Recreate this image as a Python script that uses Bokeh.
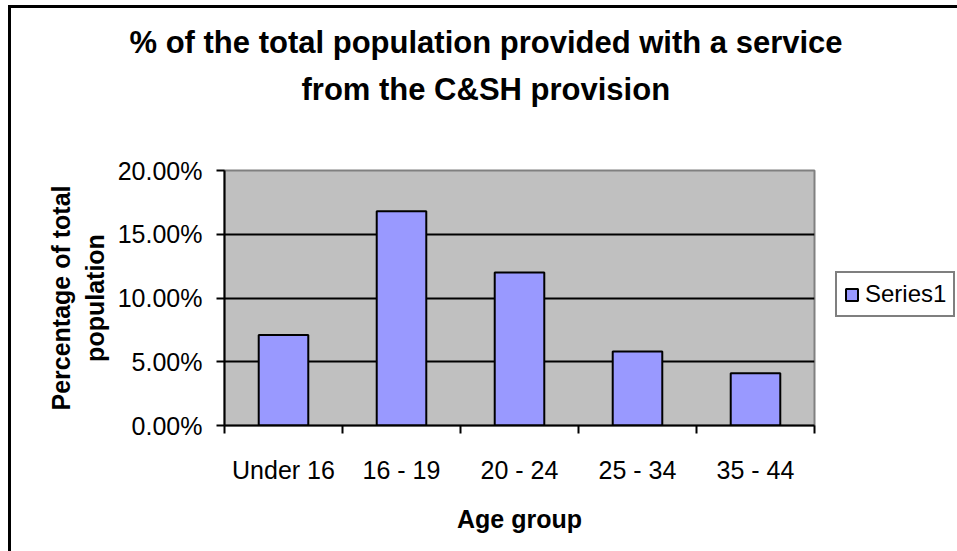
from bokeh.plotting import figure
from bokeh.models import (FixedTicker, NumeralTickFormatter, Legend, LegendItem,
                          ColumnDataSource, Range1d, Title)
from bokeh.embed import file_html
from bokeh.resources import INLINE

# ---- data ----
categories = ["Under 16", "16 - 19", "20 - 24", "25 - 34", "35 - 44"]
values = [0.071, 0.168, 0.120, 0.058, 0.041]
y_ticks = [0.0, 0.05, 0.10, 0.15, 0.20]
series_name = "Series1"
title_lines = ["% of the total population provided with a service",
               "from the C&SH provision"]
x_title = "Age group"
y_title = "Percentage of total\npopulation"

FONT = "Liberation Sans"

xs = [i + 0.5 for i in range(len(categories))]
src = ColumnDataSource(dict(x=xs, top=values, cat=categories))

p = figure(frame_width=590, frame_height=255,
           x_range=Range1d(0, len(categories)), y_range=Range1d(y_ticks[0], y_ticks[-1]),
           output_backend="svg", toolbar_location=None,
           min_border_left=213, min_border_top=162, min_border_right=143, min_border_bottom=126)
p.styles = {"border-left": "3px solid black", "border-top": "3px solid black",
            "margin-left": "8px", "margin-top": "5px"}
p.background_fill_color = "#C0C0C0"
p.border_fill_color = "white"
p.outline_line_color = "#808080"
p.outline_line_width = 2

r = p.vbar(x="x", top="top", width=0.42, source=src,
           fill_color="#9999FF", line_color="black", line_width=2)

# x axis: labels at centres, ticks at boundaries
xa = p.xaxis[0]
xa.ticker = FixedTicker(ticks=xs, minor_ticks=list(range(len(categories) + 1)))
xa.major_label_overrides = {x: c for x, c in zip(xs, categories)}
xa.major_tick_out = 0
xa.major_tick_in = 0
xa.minor_tick_out = 8
xa.minor_tick_in = 0
xa.minor_tick_line_color = "black"
xa.minor_tick_line_width = 2
xa.axis_line_width = 2
xa.axis_line_color = "black"
xa.major_label_text_font = FONT
xa.major_label_text_font_size = "25px"
xa.major_label_text_color = "black"
xa.major_label_standoff = 22
xa.axis_label = x_title
xa.axis_label_text_font = FONT
xa.axis_label_text_font_size = "25px"
xa.axis_label_text_font_style = "bold"
xa.axis_label_text_color = "black"
xa.axis_label_standoff = 18

ya = p.yaxis[0]
ya.ticker = FixedTicker(ticks=y_ticks, minor_ticks=[])
ya.formatter = NumeralTickFormatter(format="0.00%")
ya.major_tick_out = 8
ya.major_tick_in = 0
ya.major_tick_line_width = 2
ya.major_tick_line_color = "black"
ya.minor_tick_out = 0
ya.minor_tick_in = 0
ya.axis_line_width = 2
ya.axis_line_color = "black"
ya.major_label_text_font = FONT
ya.major_label_text_font_size = "25px"
ya.major_label_text_color = "black"
ya.major_label_standoff = 14
ya.axis_label = y_title
ya.axis_label_text_font = FONT
ya.axis_label_text_font_size = "25px"
ya.axis_label_text_font_style = "bold"
ya.axis_label_text_color = "black"
ya.axis_label_standoff = 6

p.xgrid.visible = False
p.ygrid.ticker = FixedTicker(ticks=y_ticks[1:-1])
p.ygrid.grid_line_color = "black"
p.ygrid.grid_line_width = 2

legend = Legend(items=[LegendItem(label=series_name, renderers=[r])],
                location=(21, 108), label_text_font=FONT, label_text_font_size="24px",
                label_text_color="black", glyph_width=15, glyph_height=15,
                border_line_color="black", border_line_width=2, padding=7,
                spacing=0, margin=0, background_fill_color="white",
                background_fill_alpha=1.0, label_standoff=6)
p.add_layout(legend, "right")

# spacer between the frame and the title block
p.add_layout(Title(text=" ", text_font=FONT, text_font_size="42px"), "above")
# title: second line nearest the frame, first line above it
for line, off in [(title_lines[1], 77), (title_lines[0], -95)]:
    p.add_layout(Title(text=line, align="left", offset=off, text_font=FONT,
                       text_font_size="31px", text_font_style="bold",
                       text_color="black"), "above")

open("out.html", "w").write(file_html(p, INLINE))
